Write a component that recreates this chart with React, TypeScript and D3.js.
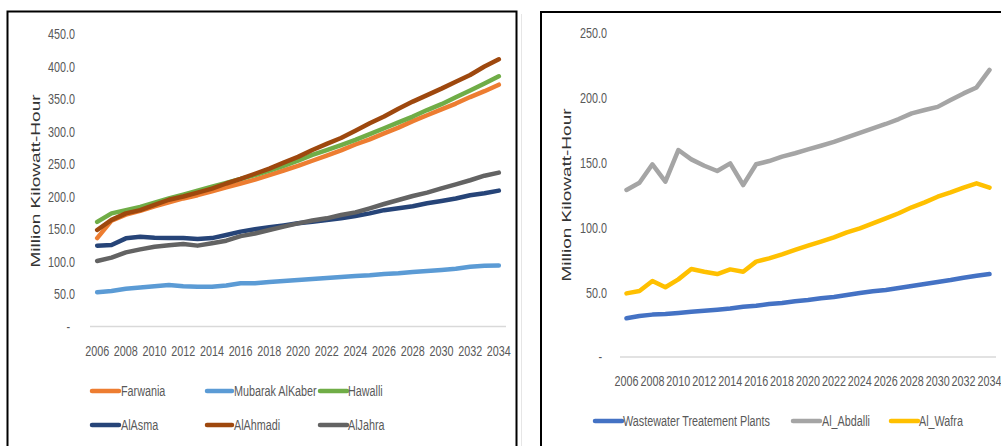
import React from 'react';
import * as d3 from 'd3';

const years = [2006,2007,2008,2009,2010,2011,2012,2013,2014,2015,2016,2017,2018,2019,2020,2021,2022,2023,2024,2025,2026,2027,2028,2029,2030,2031,2032,2033,2034];
const xTickYears = [2006,2008,2010,2012,2014,2016,2018,2020,2022,2024,2026,2028,2030,2032,2034];
const leftYTicks = [0,50,100,150,200,250,300,350,400,450];
const rightYTicks = [0,50,100,150,200,250];

const farwania = [136,163,172,178,185,191,197,202,208,214,220,226,233,240,247,255,263,271,280,288,297,306,316,325,334,343,353,362,372];
const mubarak = [52.6,54.6,58,60,62,63.8,62,61,61,63,66.4,66.4,68.5,70,71.5,73,74.6,76,77.7,79,80.8,82,83.8,85.4,87,89,92,93.6,94];
const hawalli = [161,174,179,184,190.5,197,203,209,215,221,227,233,240,247,255,264,271.5,279,287,296,305,314,323,333,342,352.6,363,374,385];
const alAsma = [124.4,125.4,135.6,138,136.7,136,136,134.6,136,140.8,146,149.5,152.6,155.6,158.7,161,164,166.4,170,174,179,182,185,189.5,193,197,202,205,209];
const alAhmadi = [148.5,164,174,179,187,195,200,206,212,220,227,235,243,252,261,271.5,281,290,301,312.6,323,335,346,356,366,376.6,387,400,411];
const alJahra = [100.8,106,114,118.7,122.8,125,127,124.4,128,132,139,143,148.5,153.6,158.7,163,166.4,171.5,175.6,181.8,188.5,194.6,200.8,206,212.6,218.7,225,232,236.7];

const wastewater = [29.9,31.6,32.7,33.2,34,35,35.7,36.5,37.5,38.8,39.6,40.9,41.7,43,44,45.3,46.3,47.8,49.4,50.7,51.7,53.2,54.8,56.3,57.9,59.4,61.2,62.7,64];
const alAbdalli = [128.9,134.5,148.7,135.3,159.7,152.5,147.6,143.5,149.4,132.7,148.7,151.2,154.6,157.2,160.2,163,166,169.5,173,176.4,179.8,183.6,188,190.6,193,198.3,203.4,208,221.5];
const alWafra = [49.1,50.9,58.6,53.8,59.9,67.9,65.8,64,67.6,65.8,73.6,76.1,79.2,82.6,85.9,89,92.3,96.2,99.3,103.1,107,110.9,115.5,119.3,123.7,127,130.7,134,130.7];

const leftSeries = [
  { name: 'Farwania', values: farwania, color: '#ED7D31' },
  { name: 'Mubarak AlKaber', values: mubarak, color: '#5B9BD5' },
  { name: 'Hawalli', values: hawalli, color: '#70AD47' },
  { name: 'AlAsma', values: alAsma, color: '#264478' },
  { name: 'AlAhmadi', values: alAhmadi, color: '#9E480E' },
  { name: 'AlJahra', values: alJahra, color: '#636363' },
];
const rightSeries = [
  { name: 'Wastewater Treatement Plants', values: wastewater, color: '#4472C4' },
  { name: 'Al_Abdalli', values: alAbdalli, color: '#A5A5A5' },
  { name: 'Al_Wafra', values: alWafra, color: '#FFC000' },
];

const FONT = "'Liberation Sans', Arial, sans-serif";
const TEXT = '#595959';
const SX = 0.72;

function NText({ x, y, anchor = 'start', children, size = 15, color = TEXT }: any) {
  return (
    <g transform={`translate(${x},${y}) scale(${SX},1)`}>
      <text x={0} y={0} textAnchor={anchor} dy="0.36em" fontFamily={FONT} fontSize={size} fill={color}>{children}</text>
    </g>
  );
}

function Panel({ series, yMax, yTicks, xRange, yRange, yLabelX, xLabelY, titleX, titleY, legend }: any) {
  const x = d3.scaleBand<number>().domain(years).range(xRange).padding(0);
  const bw = x.bandwidth();
  const cx = (yr: number) => (x(yr) as number) + bw / 2;
  const y = d3.scaleLinear().domain([0, yMax]).range(yRange);
  const line = d3.line<number>().x((_, i) => cx(years[i])).y((d) => y(d));
  return (
    <g>
      <line x1={xRange[0]} x2={xRange[1]} y1={y(0)} y2={y(0)} stroke="#d9d9d9" strokeWidth={1.5} />
      {yTicks.map((t: number) => (
        <NText key={t} x={t === 0 ? yLabelX - 5 : yLabelX} y={y(t)} anchor="end">{t === 0 ? '-' : t.toFixed(1)}</NText>
      ))}
      {xTickYears.map((yr) => (
        <NText key={yr} x={cx(yr)} y={xLabelY} anchor="middle">{String(yr)}</NText>
      ))}
      <g transform={`translate(${titleX},${titleY}) rotate(-90) scale(1,0.72)`}>
        <text x={0} y={0} textAnchor="middle" dy="0.36em" fontFamily={FONT} fontSize={19} fill="#333">Million Kilowatt-Hour</text>
      </g>
      {series.map((s: any) => (
        <path key={s.name} d={line(s.values) as string} fill="none" stroke={s.color} strokeWidth={4.5} strokeLinejoin="round" strokeLinecap="round" />
      ))}
      {series.map((s: any, i: number) => {
        const p = legend[i];
        return (
          <g key={s.name}>
            <line x1={p[0]} x2={p[1]} y1={p[3]} y2={p[3]} stroke={s.color} strokeWidth={4.5} strokeLinecap="round" />
            <NText x={p[2]} y={p[3]}>{s.name}</NText>
          </g>
        );
      })}
    </g>
  );
}

export default function App() {
  return (
    <svg width={1001} height={446} style={{ position: 'absolute', left: 0, top: 0, background: '#fff' }}>
      <rect x={0} y={0} width={1001} height={446} fill="#fff" />
      <rect x={7.5} y={11.5} width={509} height={460} fill="none" stroke="#000" strokeWidth={2} />
      <line x1={521.5} x2={521.5} y1={14} y2={446} stroke="#e6e6e6" strokeWidth={1} />
      <rect x={541} y={12} width={480} height={460} fill="none" stroke="#000" strokeWidth={2} />
      <Panel
        series={leftSeries}
        yMax={450}
        yTicks={leftYTicks}
        xRange={[90, 506]}
        yRange={[326.5, 34]}
        yLabelX={75}
        xLabelY={351}
        titleX={35}
        titleY={181}
        legend={[
          [92, 119, 121, 391],
          [207, 232, 234, 391],
          [320, 347, 348, 391],
          [92, 119, 121, 425],
          [207, 232, 234, 425],
          [320, 347, 348, 425],
        ]}
      />
      <Panel
        series={rightSeries}
        yMax={250}
        yTicks={rightYTicks}
        xRange={[620, 996]}
        yRange={[357, 33]}
        yLabelX={607}
        xLabelY={381}
        titleX={566}
        titleY={195}
        legend={[
          [595, 622, 623, 421],
          [793, 820, 822, 421],
          [891, 918, 919, 421],
        ]}
      />
    </svg>
  );
}
